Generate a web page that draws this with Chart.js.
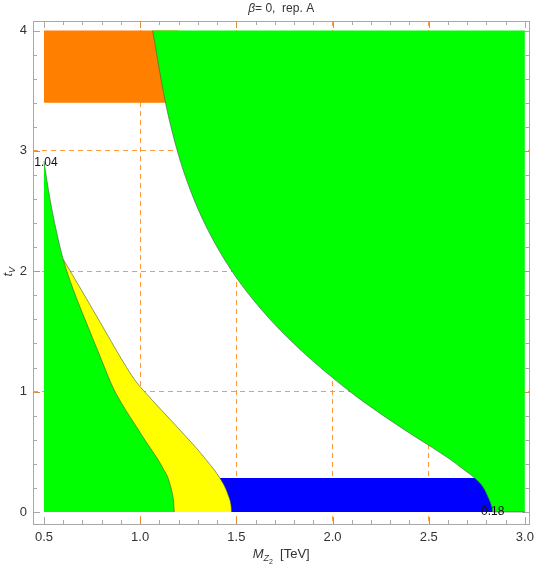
<!DOCTYPE html>
<html lang="en">
<head>
    <meta charset="UTF-8">
    <title>beta = 0, rep. A</title>
    <style>
        body { margin: 0; padding: 0; background: #ffffff; }
        #wrap { width: 540px; height: 571px; position: relative; }
    </style>
</head>
<body>
    <div id="wrap"><canvas id="regionChart"></canvas></div>

    <script src="https://cdn.jsdelivr.net/npm/chart.js"></script>
    <script>
        // tick labels and dashed grid positions
        const xTicks = [0.5, 1.0, 1.5, 2.0, 2.5, 3.0];
        const yTicks = [0, 1, 2, 3, 4];
        const gridX = [1.0, 1.5, 2.0, 2.5];
        const gridY = [1, 2, 3];

        // upper right green region: lower-left boundary, filled up to t_V = 4
        const greenTopX = [1.065, 1.131, 1.195, 1.26, 1.34, 1.47, 1.63, 1.83, 2.09, 2.28, 2.45, 2.60, 2.68, 2.74, 2.785, 2.812, 2.828, 2.833, 3.0];
        const greenTopY = [4.0, 3.406, 2.99, 2.678, 2.382, 2.018, 1.682, 1.352, 1.001, 0.783, 0.604, 0.45, 0.355, 0.28, 0.20, 0.11, 0.04, 0, 0];

        // lower left green region: upper boundary, filled down to 0
        const greenLowX = [0.5, 0.531, 0.566, 0.6, 0.652, 0.721, 0.79, 0.86, 0.92, 0.98, 1.03, 1.083, 1.12, 1.143, 1.162, 1.173, 1.178];
        const greenLowY = [2.914, 2.604, 2.324, 2.10, 1.85, 1.57, 1.30, 1.03, 0.86, 0.71, 0.585, 0.46, 0.36, 0.29, 0.19, 0.10, 0];

        // yellow band: outer boundary
        const yellowX = [0.6, 0.65, 0.72, 0.80, 0.87, 0.93, 0.98, 1.031, 1.10, 1.17, 1.238, 1.30, 1.345, 1.385, 1.415, 1.44, 1.46, 1.472, 1.476];
        const yellowY = [2.10, 1.965, 1.775, 1.555, 1.36, 1.20, 1.08, 0.985, 0.865, 0.745, 0.627, 0.517, 0.43, 0.35, 0.28, 0.21, 0.13, 0.06, 0];

        // blue strip and orange block
        const blueX = [1.40, 2.9];
        const blueY = [0.283, 0.283];
        const orangeX = [0.5, 1.2];
        const orangeY = [3.4, 3.4];

        // end point labels
        const endLabels = [
            { x: 0.5, y: 2.914, text: '1.04', dx: 2, dy: 1 },
            { x: 2.833, y: 0, text: '0.18', dx: 0, dy: 0 }
        ];

        function pts(xs, ys) {
            return xs.map((x, i) => ({ x: x, y: ys[i] }));
        }

        const FONT = '"Liberation Sans", Arial, sans-serif';
        const edge = 'rgba(70,90,70,0.75)';

        const framePlugin = {
            id: 'framePlugin',
            beforeDatasetsDraw(chart) {
                const ctx = chart.ctx;
                const a = chart.chartArea;
                const xs = chart.scales.x, ys = chart.scales.y;
                ctx.save();
                ctx.lineWidth = 1;
                // x ticks, bottom and top, pointing inward
                for (let i = 0; i <= 25; i++) {
                    const v = 0.5 + i * 0.1;
                    const px = Math.round(xs.getPixelForValue(v)) + 0.5;
                    const major = i % 5 === 0;
                    const len = major ? 7 : 4;
                    ctx.strokeStyle = major && gridX.some(g => Math.abs(g - v) < 1e-6) ? '#e08a3a' : '#a8a8a8';
                    ctx.beginPath();
                    ctx.moveTo(px, a.bottom); ctx.lineTo(px, a.bottom - len);
                    ctx.moveTo(px, a.top); ctx.lineTo(px, a.top + len);
                    ctx.stroke();
                }
                for (let i = 0; i <= 20; i++) {
                    const v = i * 0.2;
                    const py = Math.round(ys.getPixelForValue(v)) + 0.5;
                    const major = i % 5 === 0;
                    const len = major ? 7 : 4;
                    ctx.strokeStyle = major && gridY.some(g => Math.abs(g - v) < 1e-6) ? '#e08a3a' : '#a8a8a8';
                    ctx.beginPath();
                    ctx.moveTo(a.left, py); ctx.lineTo(a.left + len, py);
                    ctx.moveTo(a.right, py); ctx.lineTo(a.right - len, py);
                    ctx.stroke();
                }
                ctx.restore();
            },
            afterDraw(chart) {
                const ctx = chart.ctx;
                const a = chart.chartArea;
                const xs = chart.scales.x, ys = chart.scales.y;
                ctx.save();
                // frame
                ctx.strokeStyle = '#a8a8a8';
                ctx.lineWidth = 1;
                ctx.strokeRect(Math.round(a.left) + 0.5, Math.round(a.top) + 0.5,
                    Math.round(a.right - a.left), Math.round(a.bottom - a.top));

                // end point labels
                ctx.fillStyle = '#111';
                ctx.font = '12px ' + FONT;
                ctx.textAlign = 'center';
                ctx.textBaseline = 'middle';
                endLabels.forEach(l => {
                    ctx.fillText(l.text, xs.getPixelForValue(l.x) + l.dx, ys.getPixelForValue(l.y) + l.dy);
                });

                // title
                const cx = (a.left + a.right) / 2;
                ctx.fillStyle = '#333';
                ctx.textAlign = 'left';
                ctx.textBaseline = 'alphabetic';
                const parts = [['italic 12px ' + FONT, '\u03b2'], ['12px ' + FONT, '= 0,  rep. A']];
                let w = 0;
                parts.forEach(p => { ctx.font = p[0]; w += ctx.measureText(p[1]).width; });
                let x0 = cx - w / 2;
                parts.forEach(p => { ctx.font = p[0]; ctx.fillText(p[1], x0, 12); x0 += ctx.measureText(p[1]).width; });

                // x axis title M_{Z_2} [TeV]
                const xt = [
                    ['italic 13px ' + FONT, 'M', 0],
                    ['italic 9px ' + FONT, 'Z', 3],
                    ['7px ' + FONT, '2', 6],
                    ['13px ' + FONT, '  [TeV]', 0]
                ];
                w = 0;
                xt.forEach(p => { ctx.font = p[0]; w += ctx.measureText(p[1]).width; });
                x0 = cx - w / 2;
                xt.forEach(p => { ctx.font = p[0]; ctx.fillText(p[1], x0, 558 + p[2]); x0 += ctx.measureText(p[1]).width; });

                // y axis title t_V
                ctx.translate(12, (a.top + a.bottom) / 2);
                ctx.rotate(-Math.PI / 2);
                ctx.font = 'italic 13px ' + FONT;
                ctx.fillText('t', -4, 0);
                const tw = ctx.measureText('t').width;
                ctx.font = 'italic 9px ' + FONT;
                ctx.fillText('V', -4 + tw, 3);
                ctx.restore();
            }
        };

        const ctx = document.getElementById('regionChart').getContext('2d');

        const regionChart = new Chart(ctx, {
            type: 'line',
            data: {
                datasets: [
                    {
                        label: 'blue',
                        data: pts(blueX, blueY),
                        borderWidth: 0,
                        backgroundColor: '#0000ff',
                        fill: { value: 0 },
                        order: 5
                    },
                    {
                        label: 'orange',
                        data: pts(orangeX, orangeY),
                        borderWidth: 0,
                        backgroundColor: '#ff7f00',
                        fill: { value: 4 },
                        order: 4
                    },
                    {
                        label: 'yellow',
                        data: pts(yellowX, yellowY),
                        borderWidth: 0.8,
                        borderColor: edge,
                        backgroundColor: '#ffff00',
                        fill: { value: 0 },
                        cubicInterpolationMode: 'monotone',
                        order: 3
                    },
                    {
                        label: 'green low',
                        data: pts(greenLowX, greenLowY),
                        borderWidth: 0.8,
                        borderColor: edge,
                        backgroundColor: '#00ff00',
                        fill: { value: 0 },
                        cubicInterpolationMode: 'monotone',
                        order: 2
                    },
                    {
                        label: 'green top',
                        data: pts(greenTopX, greenTopY),
                        borderWidth: 0.8,
                        borderColor: edge,
                        backgroundColor: '#00ff00',
                        fill: { value: 4 },
                        cubicInterpolationMode: 'monotone',
                        order: 1
                    }
                ]
            },
            options: {
                responsive: true,
                maintainAspectRatio: false,
                animation: false,
                layout: { padding: { top: 21, right: 8, left: 0, bottom: 0 } },
                elements: { point: { radius: 0 } },
                scales: {
                    x: {
                        type: 'linear',
                        min: 0.4431,
                        max: 3.0233,
                        afterBuildTicks: s => { s.ticks = xTicks.map(v => ({ value: v })); },
                        afterFit: s => { s.height = 47; },
                        grid: {
                            color: c => gridX.includes(c.tick.value) ? '#ff9a3c' : 'rgba(0,0,0,0)',
                            lineWidth: 1,
                            drawTicks: false
                        },
                        border: { display: false, dash: [5, 4] },
                        ticks: {
                            color: '#333',
                            font: { family: FONT, size: 13 },
                            padding: 6,
                            maxRotation: 0,
                            callback: v => v.toFixed(1)
                        }
                    },
                    y: {
                        type: 'linear',
                        min: -0.0998,
                        max: 4.079,
                        afterBuildTicks: s => { s.ticks = yTicks.map(v => ({ value: v })); },
                        afterFit: s => { s.width = 33; },
                        grid: {
                            color: c => gridY.includes(c.tick.value) ? '#ff9a3c' : 'rgba(0,0,0,0)',
                            lineWidth: 1,
                            drawTicks: false
                        },
                        border: { display: false, dash: [5, 4] },
                        ticks: {
                            color: '#333',
                            font: { family: FONT, size: 13 },
                            padding: 6,
                            callback: v => String(v)
                        }
                    }
                },
                plugins: {
                    legend: { display: false },
                    tooltip: { enabled: false },
                    title: { display: false }
                }
            },
            plugins: [framePlugin]
        });
    </script>
</body>
</html>
